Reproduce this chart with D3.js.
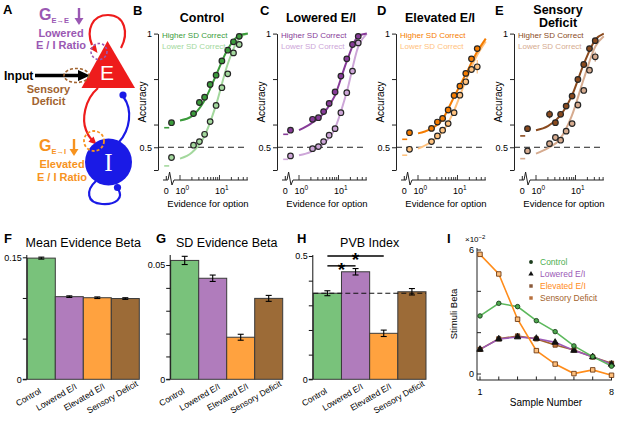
<!DOCTYPE html>
<html><head><meta charset="utf-8">
<script src="https://cdn.jsdelivr.net/npm/d3@7"></script>
<style>body{margin:0;background:#fff}svg{display:block}</style>
</head><body>
<svg id="c" width="617" height="423"></svg>
<script>
// ================= DATA =================
const conditions = ["Control", "Lowered E/I", "Elevated E/I", "Sensory Deficit"];
// psychometric panels (B-E): evidence 0 then log-spaced levels
const evidenceLevels = [0, 2.2, 3.1, 4.2, 5.8, 8.2, 11.5, 16.2, 22.6, 31.6];
const controlHigh  = [0.608, 0.648, 0.697, 0.720, 0.776, 0.817, 0.880, 0.927, 0.964, 0.988];
const controlLow   = [0.455, 0.509, 0.525, 0.557, 0.613, 0.684, 0.762, 0.823, 0.915, 0.952];
const loweredHigh  = [0.575, 0.623, 0.630, 0.657, 0.693, 0.743, 0.813, 0.889, 0.952, 0.988];
const loweredLow   = [0.462, 0.494, 0.503, 0.525, 0.553, 0.582, 0.652, 0.740, 0.835, 0.959];
const elevatedHigh = [0.564, 0.583, 0.611, 0.627, 0.664, 0.728, 0.769, 0.825, 0.889, 0.934];
const elevatedLow  = [0.491, 0.525, 0.550, 0.575, 0.604, 0.652, 0.729, 0.788, 0.842, 0.854];
const sensoryHigh  = [0.582, 0.645, 0.608, 0.645, 0.681, 0.725, 0.798, 0.864, 0.934, 0.969];
const sensoryLow   = [0.484, 0.516, 0.543, 0.531, 0.571, 0.604, 0.686, 0.750, 0.839, 0.898];
// visible error bars (accuracy units)
const controlHighErr  = [0, 0.012, 0, 0, 0, 0, 0, 0, 0, 0];
const controlLowErr   = [0, 0, 0, 0, 0, 0, 0, 0, 0, 0];
const loweredHighErr  = [0, 0.012, 0, 0, 0, 0, 0, 0, 0, 0];
const loweredLowErr   = [0, 0, 0, 0, 0, 0, 0, 0, 0, 0];
const elevatedHighErr = [0, 0, 0, 0, 0, 0, 0, 0, 0, 0.012];
const elevatedLowErr  = [0, 0, 0, 0, 0, 0, 0, 0, 0, 0.03];
const sensoryHighErr  = [0, 0.018, 0, 0, 0, 0, 0, 0, 0, 0];
const sensoryLowErr   = [0, 0, 0, 0, 0, 0, 0, 0, 0, 0.022];
// short dashes at evidence 0 (higher SD, lower SD)
const zeroDashes = [[0.586, 0.418], [0.557, 0.447], [0.535, 0.465], [0.550, 0.450]];
// fitted curves sampled at these evidence values
const fitEvidence = [1, 2, 4, 8, 16, 32, 52];
const controlHighFit  = [0.618, 0.637, 0.700, 0.813, 0.930, 0.993, 1.000];
const controlLowFit   = [0.450, 0.477, 0.543, 0.681, 0.864, 0.980, 1.000];
const loweredHighFit  = [0.575, 0.604, 0.645, 0.725, 0.876, 0.990, 1.000];
const loweredLowFit   = [0.465, 0.480, 0.513, 0.580, 0.740, 0.945, 1.000];
const elevatedHighFit = [0.561, 0.579, 0.618, 0.718, 0.820, 0.922, 0.978];
const elevatedLowFit  = [0.494, 0.520, 0.564, 0.657, 0.791, 0.908, 0.966];
const sensoryHighFit  = [0.575, 0.593, 0.637, 0.725, 0.864, 0.974, 1.000];
const sensoryLowFit   = [0.472, 0.496, 0.535, 0.637, 0.798, 0.944, 0.988];
const psychTitles = [["Control"], ["Lowered E/I"], ["Elevated E/I"], ["Sensory", "Deficit"]];
const panelLetters = ["B", "C", "D", "E"];
const legendLabels = ["Higher SD Correct", "Lower SD Correct"];
const accuracyTicks = [0.4, 0.5, 0.6, 0.8, 1];

// bar panels (F-H)
const meanEvidenceBeta = [0.149, 0.1016, 0.1003, 0.0993];
const meanEvidenceErr  = [0.0012, 0.0010, 0.0010, 0.0010];
const sdEvidenceBeta   = [0.0520, 0.0442, 0.0184, 0.0354];
const sdEvidenceErr    = [0.0018, 0.0014, 0.0013, 0.0013];
const pvbIndex         = [0.349, 0.436, 0.1865, 0.355];
const pvbErr           = [0.010, 0.013, 0.013, 0.013];
const meanTicks = [0, 0.05, 0.1, 0.15];
const sdTicks   = [0, 0.01, 0.02, 0.03, 0.04, 0.05];
const pvbTicks  = [0, 0.1, 0.2, 0.3, 0.4, 0.5];
// significance comparisons in H: [from, to, height]
const pvbSignif = [["Control", "Lowered E/I", 0.46], ["Control", "Elevated E/I", 0.5]];

// panel I: stimuli beta (x10^-2) per sample
const sampleNumbers = [1, 2, 3, 4, 5, 6, 7, 8];
const controlStimBeta  = [2.81, 3.42, 3.26, 2.58, 2.05, 1.36, 0.84, 0.38];
const loweredStimBeta  = [1.19, 1.69, 1.79, 1.72, 1.53, 1.14, 0.83, 0.47];
const elevatedStimBeta = [5.79, 4.84, 2.65, 1.13, 0.48, 0.02, 0.20, -0.06];
const sensoryStimBeta  = [1.19, 1.70, 1.84, 1.70, 1.40, 1.16, 0.82, 0.52];

// ================= STYLE =================
const FONT = "'Liberation Sans', Arial, Helvetica, sans-serif";
const psychColors = [["#3b9b3b", "#a3d89d"], ["#873b98", "#cda6d8"], ["#f57c00", "#ffc27e"], ["#8a4a1e", "#d6ab8f"]];
const barColors = ["#79c27b", "#b07cbc", "#ffa23f", "#9c6b37"];
const lineColors = ["#5cb85c", "#9b59b6", "#ff8c1a", "#a3632d"];
const svg = d3.select("#c").style("font-family", FONT);

function txt(g, x, y, s, size, opt = {}) {
  return g.append("text").attr("x", x).attr("y", y).text(s)
    .attr("font-size", size).attr("fill", opt.fill || "#000")
    .attr("font-weight", opt.bold ? "bold" : "normal")
    .attr("text-anchor", opt.anchor || "start");
}

// ================= PANEL A (circuit) =================
(function () {
  const A = svg.append("g");
  const red = "#ee1c1c", blue = "#1a1ae6", pur = "#9a58b3", ora = "#f7931e", brn = "#a1632f";
  txt(A, 3, 14, "A", 13, { bold: true });
  // E self loop
  A.append("path").attr("d", "M121,48 C129,33 125,15 108,15 C92,15 86,30 92,45")
    .attr("fill", "none").attr("stroke", red).attr("stroke-width", 2.2);
  A.append("path").attr("d", "M97.5,53 L89.8,48.6 L95.6,44.6 Z").attr("fill", red);
  // E -> I
  A.append("path").attr("d", "M98,88 C84,100 82,120 86,130 C87.5,134 89,137 91.5,139.5")
    .attr("fill", "none").attr("stroke", red).attr("stroke-width", 2.2);
  A.append("path").attr("d", "M96.5,144.5 L88.4,141.7 L93.6,136.5 Z").attr("fill", red);
  // I -> E
  A.append("path").attr("d", "M119,142 C130,130 133,110 123.5,97")
    .attr("fill", "none").attr("stroke", blue).attr("stroke-width", 2.2);
  A.append("circle").attr("cx", 123).attr("cy", 95).attr("r", 3.6).attr("fill", blue);
  // I self loop
  A.append("path").attr("d", "M96,181 C86,190 86,203 102,204 C116,205 124,198 118,189")
    .attr("fill", "none").attr("stroke", blue).attr("stroke-width", 2.2);
  A.append("circle").attr("cx", 117.5).attr("cy", 187.5).attr("r", 3.6).attr("fill", blue);
  // E triangle
  A.append("path").attr("d", "M107.5,41 L81.5,88 L135,88 Z").attr("fill", red);
  txt(A, 107, 80, "E", 21, { fill: "#fff", anchor: "middle" });
  // I circle
  A.append("circle").attr("cx", 108.5).attr("cy", 162).attr("r", 23.5).attr("fill", blue);
  txt(A, 108.5, 171, "I", 25, { fill: "#fff", anchor: "middle" }).attr("font-family", "'Liberation Serif', 'DejaVu Serif', serif");
  // dashed markers
  A.append("circle").attr("cx", 99).attr("cy", 51.5).attr("r", 8).attr("fill", "none")
    .attr("stroke", pur).attr("stroke-width", 1.6).attr("stroke-dasharray", "2.5,2");
  A.append("circle").attr("cx", 94).attr("cy", 141).attr("r", 10).attr("fill", "none")
    .attr("stroke", ora).attr("stroke-width", 1.8).attr("stroke-dasharray", "3,2");
  // input arrow
  A.append("line").attr("x1", 35).attr("x2", 80).attr("y1", 75.5).attr("y2", 75.5)
    .attr("stroke", "#000").attr("stroke-width", 3.5);
  A.append("path").attr("d", "M78,70 L90,75.5 L78,81 Z").attr("fill", "#000");
  A.append("ellipse").attr("cx", 76.5).attr("cy", 75.5).attr("rx", 12.5).attr("ry", 7)
    .attr("fill", "none").attr("stroke", brn).attr("stroke-width", 1.6).attr("stroke-dasharray", "3,2");
  txt(A, 4, 80, "Input", 12, { bold: true });
  txt(A, 48.5, 93, "Sensory", 11, { bold: true, fill: brn, anchor: "middle" });
  txt(A, 48.5, 105, "Deficit", 11, { bold: true, fill: brn, anchor: "middle" });
  // G E->E
  const g1 = txt(A, 39, 20, "G", 16, { bold: true, fill: pur });
  g1.append("tspan").text("E\u2192E").attr("font-size", 7.5).attr("dy", 3);
  A.append("line").attr("x1", 79).attr("x2", 79).attr("y1", 8).attr("y2", 19).attr("stroke", pur).attr("stroke-width", 2.4);
  A.append("path").attr("d", "M74.5,18 L83.5,18 L79,25 Z").attr("fill", pur);
  txt(A, 61, 37, "Lowered", 11, { bold: true, fill: pur, anchor: "middle" });
  txt(A, 61, 49, "E / I Ratio", 11, { bold: true, fill: pur, anchor: "middle" });
  // G E->I
  const g2 = txt(A, 39, 151, "G", 16, { bold: true, fill: ora });
  g2.append("tspan").text("E\u2192I").attr("font-size", 7.5).attr("dy", 3);
  A.append("line").attr("x1", 74).attr("x2", 74).attr("y1", 139).attr("y2", 150).attr("stroke", ora).attr("stroke-width", 2.4);
  A.append("path").attr("d", "M69.5,149 L78.5,149 L74,156 Z").attr("fill", ora);
  txt(A, 62, 167.5, "Elevated", 11, { bold: true, fill: ora, anchor: "middle" });
  txt(A, 62, 180.5, "E / I Ratio", 11, { bold: true, fill: ora, anchor: "middle" });
})();

// ================= PANELS B-E =================
const psychHigh = [controlHigh, loweredHigh, elevatedHigh, sensoryHigh];
const psychLow = [controlLow, loweredLow, elevatedLow, sensoryLow];
const psychHighErr = [controlHighErr, loweredHighErr, elevatedHighErr, sensoryHighErr];
const psychLowErr = [controlLowErr, loweredLowErr, elevatedLowErr, sensoryLowErr];
const psychHighFit = [controlHighFit, loweredHighFit, elevatedHighFit, sensoryHighFit];
const psychLowFit = [controlLowFit, loweredLowFit, elevatedLowFit, sensoryLowFit];
const panelX0 = [158, 277, 396, 514];
const letterX = [133, 260, 377, 495];
const psychY = d3.scaleLinear().domain([0.4, 1]).range([170, 33.6]);
const xAxisY = 180;

conditions.forEach((cond, i) => {
  const x0 = panelX0[i];
  const g = svg.append("g");
  const [dark, light] = psychColors[i];
  const xLog = d3.scaleLog().domain([1, 52]).range([x0 + 22, x0 + 22 + 39.5 * Math.log10(52)]);
  const xZero = d3.scaleOrdinal().domain(["dash", "point", "tick"]).range([x0 + 8.7, x0 + 13.5, x0 + 8.3]);
  const xOf = e => e === 0 ? xZero("point") : xLog(e);

  // title + letter
  txt(g, letterX[i], 15, panelLetters[i], 13, { bold: true });
  const t = psychTitles[i];
  if (t.length === 1) txt(g, x0 + 44, 21.5, t[0], 12.5, { bold: true, anchor: "middle" });
  else { txt(g, x0 + 44, 14, t[0], 12.5, { bold: true, anchor: "middle" }); txt(g, x0 + 44, 27, t[1], 12.5, { bold: true, anchor: "middle" }); }

  // chance line
  g.append("line").attr("x1", x0).attr("x2", x0 + 90).attr("y1", psychY(0.5)).attr("y2", psychY(0.5))
    .attr("stroke", "#222").attr("stroke-width", 1).attr("stroke-dasharray", "6,4");

  // y axis
  const yAx = g.append("g").attr("transform", `translate(${x0},0)`)
    .call(d3.axisLeft(psychY).tickValues(accuracyTicks).tickSize(4).tickSizeOuter(0).tickPadding(2)
      .tickFormat(d => d === 1 ? "1" : d === 0.5 ? "0.5" : ""));
  yAx.selectAll("text").attr("font-size", 9).attr("font-family", FONT);
  yAx.selectAll("path,line").attr("stroke", "#222");
  g.append("text").attr("transform", `translate(${x0 - 12},102) rotate(-90)`).attr("text-anchor", "middle")
    .attr("font-size", 10).text("Accuracy");

  // x axis with break
  const xa = xLog.range();
  g.append("path").attr("d", `M${x0 + 5},${xAxisY} H${x0 + 10} L${x0 + 11.6},${xAxisY - 8} L${x0 + 14},${xAxisY + 5} L${x0 + 16},${xAxisY} H${xa[1]}`)
    .attr("fill", "none").attr("stroke", "#222").attr("stroke-width", 1);
  g.append("line").attr("x1", xZero("tick")).attr("x2", xZero("tick")).attr("y1", xAxisY).attr("y2", xAxisY - 4).attr("stroke", "#222");
  xLog.ticks().forEach(v => {
    const major = (v === 1 || v === 10);
    g.append("line").attr("x1", xLog(v)).attr("x2", xLog(v)).attr("y1", xAxisY).attr("y2", xAxisY - (major ? 5 : 3))
      .attr("stroke", "#222").attr("stroke-width", 0.9);
  });
  txt(g, xZero("tick"), 193.5, "0", 9, { anchor: "middle" });
  [[1, "0"], [10, "1"]].forEach(([v, e]) => {
    const tt = txt(g, xLog(v) - 4.5, 193.5, "10", 9);
    tt.append("tspan").text(e).attr("font-size", 6.5).attr("dy", -3.5);
  });
  txt(g, x0 + 50, 207, "Evidence for option", 9.5, { anchor: "middle" });

  // fitted curves
  const line = d3.line().x(d => xLog(d[0])).y(d => psychY(d[1])).curve(d3.curveMonotoneX);
  [[psychLowFit[i], light], [psychHighFit[i], dark]].forEach(([fit, c]) => {
    g.append("path").attr("d", line(fitEvidence.map((e, k) => [e, fit[k]])))
      .attr("fill", "none").attr("stroke", c).attr("stroke-width", 2);
  });
  // zero dashes
  [[zeroDashes[i][0], dark], [zeroDashes[i][1], light]].forEach(([v, c]) => {
    g.append("line").attr("x1", xZero("dash") - 2.5).attr("x2", xZero("dash") + 2.5)
      .attr("y1", psychY(v)).attr("y2", psychY(v)).attr("stroke", c).attr("stroke-width", 1.6);
  });
  // points
  [[psychLow[i], psychLowErr[i], light], [psychHigh[i], psychHighErr[i], dark]].forEach(([vals, errs, c]) => {
    vals.forEach((v, k) => {
      const x = xOf(evidenceLevels[k]);
      if (errs[k] > 0) g.append("line").attr("x1", x).attr("x2", x).attr("y1", psychY(v - errs[k])).attr("y2", psychY(v + errs[k]))
        .attr("stroke", c).attr("stroke-width", 1.2);
      g.append("circle").attr("cx", x).attr("cy", psychY(v)).attr("r", 2.8)
        .attr("fill", c).attr("stroke", "#262626").attr("stroke-width", 1.2);
    });
  });
  // legend
  txt(g, x0 + 4, 38, legendLabels[0], 8, { fill: dark });
  txt(g, x0 + 4, 48.5, legendLabels[1], 8, { fill: light });
});

// ================= PANELS F-H =================
function barPanel(cfg) {
  const g = svg.append("g");
  const x = d3.scaleBand().domain(conditions).range(cfg.xr).padding(0);
  const y = d3.scaleLinear().domain(cfg.domain).range([379.3, cfg.topY]);
  txt(g, cfg.letterX, 243, cfg.letter, 13, { bold: true });
  txt(g, (cfg.xr[0] + cfg.xr[1]) / 2, 247, cfg.title, 12.5, { anchor: "middle" });
  g.selectAll("rect").data(conditions).join("rect")
    .attr("x", d => x(d)).attr("width", x.bandwidth())
    .attr("y", (d, k) => y(cfg.values[k])).attr("height", (d, k) => y(0) - y(cfg.values[k]))
    .attr("fill", (d, k) => barColors[k]).attr("stroke", "#3a3a3a").attr("stroke-width", 1);
  if (cfg.refLine) {
    g.append("line").attr("x1", cfg.xr[0]).attr("x2", cfg.xr[1]).attr("y1", y(cfg.values[0])).attr("y2", y(cfg.values[0]))
      .attr("stroke", "#111").attr("stroke-width", 1.1).attr("stroke-dasharray", "5,3");
  }
  conditions.forEach((d, k) => {
    const cx = x(d) + x.bandwidth() / 2, v = cfg.values[k], e = cfg.errs[k];
    g.append("line").attr("x1", cx).attr("x2", cx).attr("y1", y(v - e)).attr("y2", y(v + e)).attr("stroke", "#000").attr("stroke-width", 1.1);
    [v - e, v + e].forEach(w => g.append("line").attr("x1", cx - 3).attr("x2", cx + 3).attr("y1", y(w)).attr("y2", y(w)).attr("stroke", "#000").attr("stroke-width", 1.1));
    g.append("text").attr("transform", `translate(${cx - 13},397) rotate(-30)`).attr("text-anchor", "middle")
      .attr("dy", "0.35em").attr("font-size", 8.5).text(d);
  });
  const ax = g.append("g").attr("transform", `translate(${cfg.xr[0] - 0.5},0)`)
    .call(d3.axisLeft(y).tickValues(cfg.ticks).tickSize(4).tickSizeOuter(0).tickPadding(1)
      .tickFormat(d => cfg.labels.includes(d) ? String(d) : ""));
  ax.select(".domain").attr("d", `M-4,${y(0)}H0V255`);
  ax.selectAll("text").attr("font-size", 9).attr("font-family", FONT);
  ax.selectAll("path,line").attr("stroke", "#111");
  if (cfg.signif) {
    cfg.signif.forEach(([a, b, h]) => {
      const xa = x(a) + x.bandwidth() / 2, xb = x(b) + x.bandwidth() / 2;
      g.append("line").attr("x1", xa).attr("x2", xb).attr("y1", y(h)).attr("y2", y(h)).attr("stroke", "#000").attr("stroke-width", 1.4);
      txt(g, (xa + xb) / 2, y(h) + 10, "*", 19, { bold: true, anchor: "middle" });
    });
  }
}
barPanel({ letter: "F", letterX: 4, title: "Mean Evidence Beta", xr: [27.3, 139.3], domain: [0, 0.15], topY: 257.3,
  values: meanEvidenceBeta, errs: meanEvidenceErr, ticks: meanTicks, labels: [0, 0.15] });
barPanel({ letter: "G", letterX: 156, title: "SD Evidence Beta", xr: [170.7, 282.7], domain: [0, 0.05], topY: 265,
  values: sdEvidenceBeta, errs: sdEvidenceErr, ticks: sdTicks, labels: [0, 0.05] });
barPanel({ letter: "H", letterX: 297, title: "PVB Index", xr: [313.3, 426], domain: [0, 0.5], topY: 256,
  values: pvbIndex, errs: pvbErr, ticks: pvbTicks, labels: [0, 0.5], refLine: true, signif: pvbSignif });

// ================= PANEL I =================
(function () {
  const g = svg.append("g");
  const x = d3.scaleLinear().domain([1, 8]).range([480, 611.5]);
  const y = d3.scaleLinear().domain([0, 6]).range([374, 250]);
  txt(g, 447, 243, "I", 13, { bold: true });
  // axes
  g.append("line").attr("x1", 477).attr("x2", 477).attr("y1", 248).attr("y2", 380).attr("stroke", "#222");
  [0, 2, 4, 6].forEach(v => g.append("line").attr("x1", 477).attr("x2", 481).attr("y1", y(v)).attr("y2", y(v)).attr("stroke", "#222"));
  txt(g, 474, y(6) + 3, "6", 9, { anchor: "end" });
  txt(g, 474, y(0) + 3, "0", 9, { anchor: "end" });
  const xt = txt(g, 465, 242, "\u00d710", 8);
  xt.append("tspan").text("\u22122").attr("font-size", 6).attr("dy", -3.5);
  g.append("line").attr("x1", 477).attr("x2", 612).attr("y1", 380).attr("y2", 380).attr("stroke", "#222");
  sampleNumbers.forEach(s => g.append("line").attr("x1", x(s)).attr("x2", x(s)).attr("y1", 380).attr("y2", 376.5).attr("stroke", "#222"));
  txt(g, x(1), 395, "1", 9, { anchor: "middle" });
  txt(g, x(8), 395, "8", 9, { anchor: "middle" });
  txt(g, 546, 406, "Sample Number", 10, { anchor: "middle" });
  g.append("text").attr("transform", "translate(457,314) rotate(-90)").attr("text-anchor", "middle").attr("font-size", 9.5).text("Stimuli Beta");

  const line = d3.line().x((d, k) => x(sampleNumbers[k])).y(d => y(d));
  const series = [
    { vals: sensoryStimBeta, c: lineColors[3], sym: d3.symbolSquare, size: 18, fill: "#c27238", stroke: "#6d3a14" },
    { vals: loweredStimBeta, c: lineColors[1], sym: d3.symbolTriangle, size: 18, fill: "#111", stroke: "#111" },
    { vals: controlStimBeta, c: lineColors[0], sym: d3.symbolCircle, size: 16, fill: "#4da64d", stroke: "#1d3d1d" },
    { vals: elevatedStimBeta, c: lineColors[2], sym: d3.symbolSquare, size: 20, fill: "#ffbf7a", stroke: "#6d3a14" }
  ];
  series.forEach(s => g.append("path").attr("d", line(s.vals)).attr("fill", "none").attr("stroke", s.c).attr("stroke-width", 1.6));
  series.forEach(s => s.vals.forEach((v, k) => g.append("path").attr("d", d3.symbol(s.sym, s.size)())
    .attr("transform", `translate(${x(sampleNumbers[k])},${y(v)})`).attr("fill", s.fill).attr("stroke", s.stroke).attr("stroke-width", 0.9)));
  // legend
  const leg = [
    { t: conditions[0], c: "#4caf50", sym: d3.symbolCircle, fill: "#1d3d1d" },
    { t: conditions[1], c: "#9b59b6", sym: d3.symbolTriangle, fill: "#111" },
    { t: conditions[2], c: "#ff8c1a", sym: d3.symbolSquare, fill: "#8a5a3a" },
    { t: conditions[3], c: "#a3632d", sym: d3.symbolSquare, fill: "#b8703c" }
  ];
  leg.forEach((l, k) => {
    const yy = 262 + k * 12;
    g.append("path").attr("d", d3.symbol(l.sym, 12)()).attr("transform", `translate(531,${yy})`).attr("fill", l.fill);
    txt(g, 540, yy + 3, l.t, 8.5, { fill: l.c });
  });
})();
</script>
</body></html>
